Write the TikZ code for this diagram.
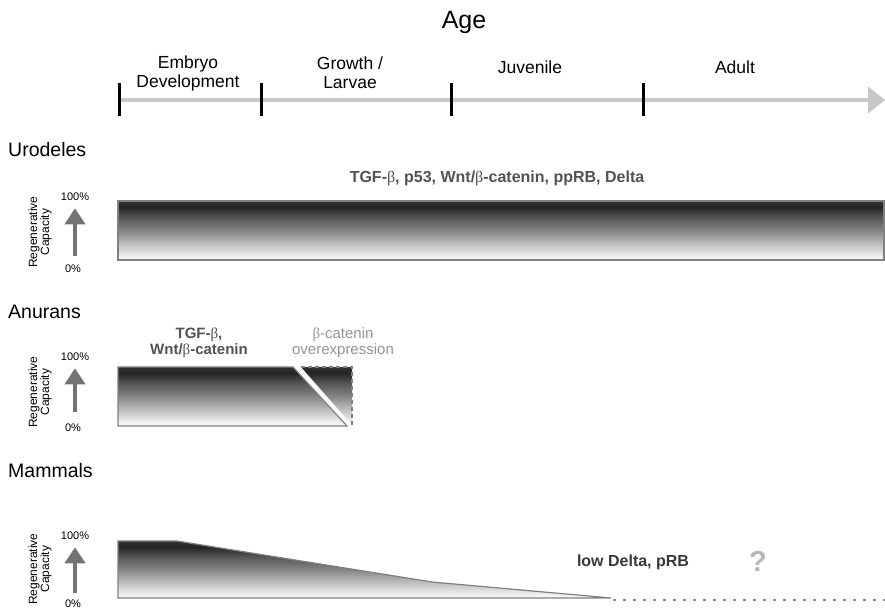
\documentclass[tikz,border=0pt]{standalone}
\usepackage{fontspec}
\setmainfont{Liberation Sans}
\newfontfamily\symfont{Liberation Serif}
\usetikzlibrary{arrows.meta}

% dark at the top, fading to white at the bottom
\pgfdeclareverticalshading{capacity}{100bp}{color(0bp)=(white); color(25bp)=(white);
  color(37bp)=(black!22); color(50bp)=(black!48); color(62bp)=(black!68);
  color(70bp)=(black!86); color(75bp)=(black!80); color(100bp)=(black!80)}

\newcommand{\fsz}[2]{\fontsize{#1}{#2}\selectfont}
\newcommand{\betasym}{{\symfont\mdseries β}}

\tikzset{period/.style={font=\fsz{17.5}{19}, align=center, inner sep=0pt},
  group/.style={font=\fsz{19.5}{21}, anchor=base west, inner sep=0pt},
  factor/.style={font=\bfseries\fsz{15}{16}, text=black!68, align=center, inner sep=0pt},
  bar/.style={draw=black!50, line width=1.2pt, shading=capacity},
  pct/.style={font=\fsz{11}{12}, inner sep=0pt, anchor=base},
  axis name/.style={font=\fsz{12}{12}, rotate=90, align=center, inner sep=0pt},
  cap arrow/.style={draw=black!55, line width=4.5pt, -{Triangle[width=20pt,length=16pt]}},
  time line/.style={draw=black!22, line width=3.5pt, -{Triangle[width=26pt,length=17pt]}},
  period tick/.style={line width=3pt},
}

\begin{document}
\begin{tikzpicture}[x=1pt,y=-1pt]
	\useasboundingbox (0,0) rectangle (885,608);

	% age axis
	\node[font=\fsz{25}{27}, anchor=base] (age) at (464,28) {Age};
	\coordinate (birth) at (118,100);
	\coordinate (old) at (885,100);
	\draw[time line] (birth) -- (old);
	\foreach \x in {119,261,451,643}
		\draw[period tick] (\x,83) -- (\x,116);
	\node[period, anchor=south] (embryo) at (188,91) {Embryo\\Development};
	\node[period, anchor=south] (larvae) at (350,89) {Growth /\\Larvae};
	\node[period, anchor=base] (juvenile) at (530,73) {Juvenile};
	\node[period, anchor=base] (adult) at (735,73) {Adult};

	% urodeles
	\node[group] (urodeles) at (8,156) {Urodeles};
	\node[factor, font=\bfseries\fsz{16}{17}, anchor=base] (uroFactors) at (497,182)
		{TGF-\betasym, p53, Wnt/\betasym-catenin, ppRB, Delta};
	\shadedraw[bar] (118,201) rectangle (884,260);
	\node[axis name] (uroAxis) at (40,232) {Regenerative\\Capacity};
	\node[pct] (uroHi) at (75,200) {100\%};
	\node[pct] (uroLo) at (73,272) {0\%};
	\draw[cap arrow, shorten <=8pt, shorten >=8pt] (uroLo.north -| uroHi) -- (uroHi.south);

	% anurans
	\node[group] (anurans) at (8,318) {Anurans};
	\node[factor] (anuFactors) at (199,343) {TGF-\betasym,\\Wnt/\betasym-catenin};
	\node[factor, font=\fsz{15}{16}, text=black!42] (anuOver) at (343,343)
		{\betasym-catenin\\overexpression};
	\shadedraw[bar] (118,367) -- (293,367) -- (347,426) -- (118,426) -- cycle;
	\shade[shading=capacity] (301,367) -- (352,367) -- (352,425) -- cycle;
	\draw[draw=black!50, line width=1.2pt, dash pattern=on 4pt off 3pt] (301,367) -- (352,367) -- (352,425);
	\node[axis name] (anuAxis) at (40,392) {Regenerative\\Capacity};
	\node[pct] (anuHi) at (75,360) {100\%};
	\node[pct] (anuLo) at (73,431) {0\%};
	\draw[cap arrow, shorten <=11pt, shorten >=8pt] (anuLo.north -| anuHi) -- (anuHi.south);

	% mammals
	\node[group] (mammals) at (8,477) {Mammals};
	\shadedraw[bar] (118,541) -- (177,541) -- (432,582) -- (611,598) -- (118,598) -- cycle;
	\coordinate (tip) at (613,600);
	\coordinate (unknown) at (885,600);
	\draw[draw=black!45, line width=1.3pt, dash pattern=on 3pt off 7pt] (tip) -- (unknown);
	\node[factor, font=\bfseries\fsz{16}{17}, text=black!78, anchor=base] (lowDelta) at (633,566) {low Delta, pRB};
	\node[font=\bfseries\fsz{29}{30}, text=black!28] (query) at (758,561) {?};
	\node[axis name] (mamAxis) at (40,569) {Regenerative\\Capacity};
	\node[pct] (mamHi) at (75,539) {100\%};
	\node[pct] (mamLo) at (73,607) {0\%};
	\draw[cap arrow, shorten <=6pt, shorten >=8pt] (mamLo.north -| mamHi) -- (mamHi.south);

\end{tikzpicture}
\end{document}
